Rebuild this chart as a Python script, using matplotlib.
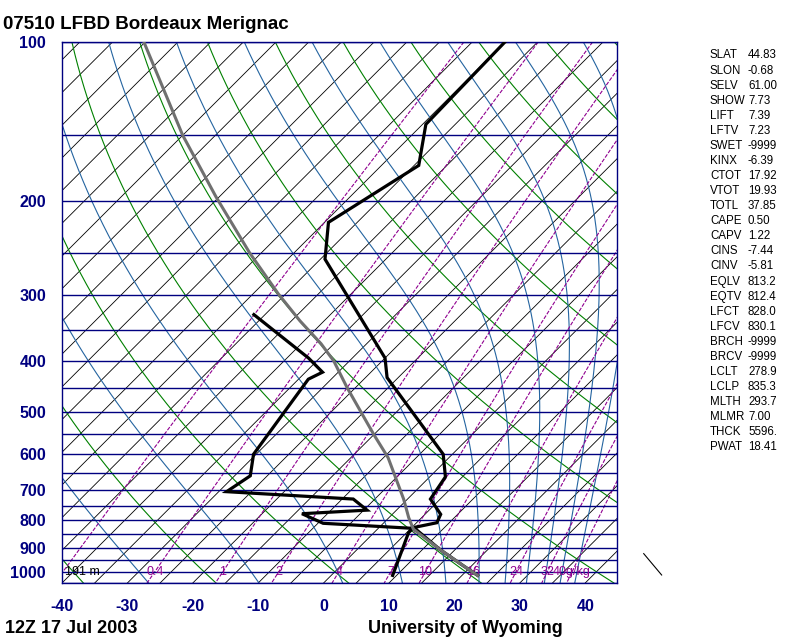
import numpy as np
import matplotlib
matplotlib.use("Agg")
import matplotlib.pyplot as plt

plt.rcParams['axes.unicode_minus'] = False
plt.rcParams['font.family'] = ['Liberation Sans', 'DejaVu Sans']

# sounding (hPa, degC)
temp_p = [1016, 975, 907, 825, 808, 779, 729, 662, 600, 430, 395, 257, 219, 171, 143, 100]
temp_t = [22.4, 18.8, 12.6, 5.3, 8.1, 7.4, 3.5, 2.4, -1.4, -21.7, -25.0, -49.3, -54.4, -49.3, -54.5, -55.0]

dwpt_p = [1016, 844, 828, 810, 777, 765, 729, 706, 659, 600, 433, 420, 395, 327]
dwpt_t = [9.4, 5.3, 5.3, -9.2, -13.9, -4.5, -8.3, -28.8, -27.6, -30.4, -33.5, -32.4, -36.7, -51.7]

# lifted parcel (grey line)
parc_p = [1016, 975, 907, 831, 790, 729, 609, 550, 449, 400, 371, 336, 299, 250, 196, 150, 100]
parc_t = [22.4, 18.8, 12.6, 5.5, 3.0, -0.6, -9.3, -15.1, -26.3, -32.4, -37.0, -43.7, -51.1, -61.8, -75.5, -90.0, -110.2]

# surface wind
wind_p = [1016]
wind_dir = [320]

hgt_1000 = 191

mr_values = [0.1, 0.4, 1, 2, 4, 7, 10, 16, 24, 32, 40]
mr_labels = ['', '0.4', '1', '2', '4', '7', '10', '16', '24', '32', '40g/kg']

isobars = list(range(100, 1051, 50))
p_ticks = [100, 200, 300, 400, 500, 600, 700, 800, 900, 1000]
t_ticks = [-40, -30, -20, -10, 0, 10, 20, 30, 40]

station = "07510 LFBD Bordeaux Merignac"
when = "12Z 17 Jul 2003"
credit = "University of Wyoming"

idx_names = ['SLAT', 'SLON', 'SELV', 'SHOW', 'LIFT', 'LFTV', 'SWET', 'KINX', 'CTOT',
             'VTOT', 'TOTL', 'CAPE', 'CAPV', 'CINS', 'CINV', 'EQLV', 'EQTV', 'LFCT',
             'LFCV', 'BRCH', 'BRCV', 'LCLT', 'LCLP', 'MLTH', 'MLMR', 'THCK', 'PWAT']
idx_values = ['44.83', '-0.68', '61.00', '7.73', '7.39', '7.23', '-9999', '-6.39', '17.92',
              '19.93', '37.85', '0.50', '1.22', '-7.44', '-5.81', '813.2', '812.4', '828.0',
              '830.1', '-9999', '-9999', '278.9', '835.3', '293.7', '7.00', '5596.', '18.41']

# geometry
W, H = 800, 640
x0, x1, y0, y1 = 62, 617, 42, 583
px_per_deg = 6.54
p_bot, p_top = 1050., 100.
t_left = -40.
t_right = t_left + (x1 - x0) / px_per_deg
K = ((y1 - y0) / np.log(p_bot / p_top)) / px_per_deg


def skew(t, p):
    return np.asarray(t, float) + K * np.log(p_bot / np.asarray(p, float))


Rd, cp, Lv, eps = 287.04, 1005.7, 2.501e6, 0.622


def sat_mr(T, p):
    es = 6.112 * np.exp(17.67 * (T - 273.15) / (T - 29.65))
    return eps * es / (p - es)


def dT_dlnp(T, p):
    rs = sat_mr(T, p)
    return (Rd * T + Lv * rs) / (cp + Lv * Lv * rs * eps / (Rd * T * T))


def moist_adiabat(theta_top, p):
    lnp = np.log(p)
    T = np.empty_like(p)
    T[0] = theta_top * (p[0] / 1000.) ** (Rd / cp)
    for i in range(len(p) - 1):
        h = lnp[i + 1] - lnp[i]
        a = dT_dlnp(T[i], np.exp(lnp[i]))
        b = dT_dlnp(T[i] + h * a / 2, np.exp(lnp[i] + h / 2))
        c = dT_dlnp(T[i] + h * b / 2, np.exp(lnp[i] + h / 2))
        d = dT_dlnp(T[i] + h * c, np.exp(lnp[i + 1]))
        T[i + 1] = T[i] + h * (a + 2 * b + 2 * c + d) / 6
    return T - 273.15


def dewpoint_from_mr(r, p):
    rk = r / 1000.
    e = p * rk / (eps + rk)
    g = np.log(e / 6.112)
    return 243.5 * g / (17.67 - g)


fig = plt.figure(figsize=(W / 100, H / 100), dpi=100)
ax = fig.add_axes([x0 / W, 1 - y1 / H, (x1 - x0) / W, (y1 - y0) / H])
ax.set_yscale('log')
ax.set_ylim(p_bot, p_top)
ax.set_xlim(t_left, t_right)

navy = '#000080'
green = '#008000'
mblue = '#2464a0'
purple = '#900090'

pp = np.geomspace(p_top, p_bot, 200)

# isotherms
for t in range(-170, 50, 5):
    ax.plot(skew([t, t], [p_bot, p_top]), [p_bot, p_top], color='black', lw=0.6, zorder=1)

# dry adiabats
for th in range(-40, 200, 20):
    tt = (th + 273.15) * (pp / 1000.) ** (Rd / cp) - 273.15
    ax.plot(skew(tt, pp), pp, color=green, lw=0.8, zorder=1.2)

# moist adiabats
for th_top in range(244, 460, 20):
    tt = moist_adiabat(float(th_top), pp)
    ax.plot(skew(tt, pp), pp, color=mblue, lw=0.8, zorder=1.2)

# mixing ratio lines
for r, lab in zip(mr_values, mr_labels):
    td = dewpoint_from_mr(r, pp)
    ax.plot(skew(td, pp), pp, color=purple, lw=0.8, ls=(0, (3.5, 1.4)), zorder=1.3)
    if lab:
        ax.text(skew(dewpoint_from_mr(r, 1000.), 1000.), 1000., lab, color=purple,
                fontsize=9, ha='center', va='center', zorder=2)

# isobars
for p in isobars:
    ax.axhline(p, color=navy, lw=1.0, zorder=1.5)

ax.text(t_left + 0.5, 1000., f"{hgt_1000} m", fontsize=9, ha='left', va='center', zorder=2)

# sounding
ax.plot(skew(temp_t, temp_p), temp_p, color='black', lw=2.3, zorder=3, solid_joinstyle='miter')
ax.plot(skew(dwpt_t, dwpt_p), dwpt_p, color='black', lw=2.3, zorder=3, solid_joinstyle='miter')
ax.plot(skew(parc_t, parc_p), parc_p, color='#707070', lw=2.2, zorder=4)

ax.set_yticks(p_ticks)
ax.set_yticklabels([str(p) for p in p_ticks])
ax.yaxis.set_minor_locator(matplotlib.ticker.NullLocator())
ax.set_xticks(t_ticks)
ax.set_xticklabels([str(t) for t in t_ticks])
ax.tick_params(length=0, labelcolor=navy, labelsize=11.5)
ax.tick_params(axis='y', pad=11.5)
ax.tick_params(axis='x', pad=11.5)
for lab in ax.get_xticklabels() + ax.get_yticklabels():
    lab.set_fontweight('bold')
for s in ax.spines.values():
    s.set_color(navy)
    s.set_linewidth(1.0)

# wind staff
wax = fig.add_axes([640 / W, 1 - y1 / H, 40 / W, (y1 - y0) / H])
wax.set_yscale('log')
wax.set_ylim(p_bot, p_top)
wax.set_xlim(0, 1)
wax.axis('off')
wd = np.radians(wind_dir)
wax.quiver([0.55] * len(wind_p), wind_p, np.sin(wd), np.cos(wd), angles='uv',
           scale_units='dots', scale=1 / 29., units='dots', width=1.1,
           headwidth=1, headlength=0, headaxislength=0, pivot='tail', color='black')

# texts
fig.text(3.3 / W, 1 - 29.3 / H, station, fontsize=13.5, fontweight='bold', va='baseline')
fig.text(5 / W, 1 - 632.7 / H, when, fontsize=13, fontweight='bold', va='baseline')
fig.text(368 / W, 1 - 632.7 / H, credit, fontsize=13, fontweight='bold', va='baseline')

for i, (n, v) in enumerate(zip(idx_names, idx_values)):
    yy = 1 - (55.5 + i * 15.07) / H
    fig.text(710 / W, yy, n, fontsize=8.3, va='center')
    fig.text(748 / W, yy, v, fontsize=8.3, va='center')

fig.savefig('out.png', dpi=100, facecolor='white')
